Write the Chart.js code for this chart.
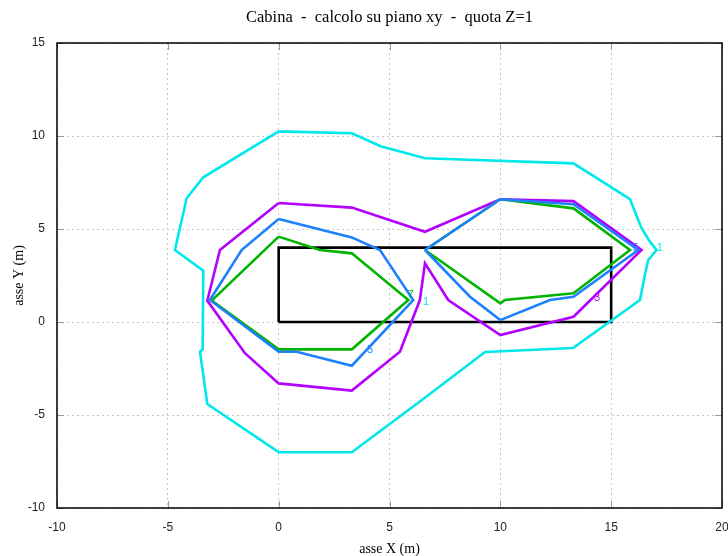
<!DOCTYPE html>
<html>
<head>
<meta charset="utf-8">
<script src="https://cdn.jsdelivr.net/npm/chart.js@4/dist/chart.umd.min.js"></script>
<style>
html,body{margin:0;padding:0;background:#fff;}
#wrap{width:728px;height:556px;position:relative;}
</style>
</head>
<body>
<div id="wrap"><canvas id="c" width="728" height="556"></canvas></div>
<script>
// ---- data ----
const titleText = "Cabina  -  calcolo su piano xy  -  quota Z=1";
const xTitle = "asse X (m)";
const yTitle = "asse Y (m)";
const xTicks = [-10, -5, 0, 5, 10, 15, 20];
const yTicks = [-10, -5, 0, 5, 10, 15];

const rectX = [0, 15, 15, 0, 0];
const rectY = [0, 0, 4, 4, 0];

const cyanX = [0, 3.3, 4.6, 6.6, 13.3, 15.85, 16.37, 16.75, 17.05, 16.67, 16.52, 16.3, 13.28, 9.31, 6.46, 3.3, 0, -3.22, -3.55, -3.43, -3.4, -4.68, -4.15, -3.4, 0];
const cyanY = [10.25, 10.15, 9.45, 8.8, 8.53, 6.6, 5.04, 4.32, 3.87, 3.33, 2.53, 1.18, -1.4, -1.61, -4.19, -7.0, -7.0, -4.41, -1.6, -1.47, 2.76, 3.87, 6.65, 7.78, 10.25];

const purpleX = [0, 3.3, 6.6, 10, 13.3, 16.37, 13.3, 10, 7.65, 6.6, 6.37, 5.47, 3.3, 0, -1.52, -3.22, -2.65, 0];
const purpleY = [6.4, 6.15, 4.85, 6.6, 6.5, 3.87, 0.28, -0.7, 1.18, 3.16, 1.18, -1.6, -3.69, -3.3, -1.68, 1.15, 3.87, 6.4];

const blueLeftX = [0, 3.3, 4.57, 6.07, 3.3, 0.81, 0, -3.1, -1.67, 0];
const blueLeftY = [5.54, 4.55, 3.87, 1.18, -2.35, -1.6, -1.6, 1.18, 3.87, 5.54];
const blueRightX = [6.6, 10, 13.3, 16.22, 13.3, 12.24, 10, 8.63, 6.6];
const blueRightY = [3.87, 6.6, 6.33, 3.87, 1.36, 1.18, 0.1, 1.36, 3.87];

const greenLeftX = [0, 1.86, 3.3, 5.85, 3.3, 0, -3.02, 0];
const greenLeftY = [4.59, 3.87, 3.69, 1.18, -1.47, -1.47, 1.15, 4.59];
const greenRightX = [6.6, 10, 10.2, 13.3, 15.85, 13.3, 10, 6.6];
const greenRightY = [3.87, 1.0, 1.18, 1.54, 3.87, 6.11, 6.6, 3.87];

// contour labels: x, y, text, colour key
const labelX = [6.65, 17.2, 5.95, 16.1, 14.36, 4.12];
const labelY = [1.07, 3.98, 1.45, 4.0, 1.29, -1.5];
const labelText = ["1", "1", "7", "5", "3", "5"];
const labelColor = ["cyan", "cyan", "green", "blue", "purple", "blue"];

const COLORS = {cyan: "#00e8ec", purple: "#b400ff", blue: "#1e80ff", green: "#00b400", black: "#000000"};

function pts(xs, ys){ return xs.map((x,i)=>({x:x, y:ys[i]})); }
function ds(xs, ys, col, order, w){
  return {data: pts(xs, ys), showLine: true, borderColor: COLORS[col], backgroundColor: COLORS[col],
          borderWidth: w || 2.6, pointRadius: 0, pointHoverRadius: 0, fill: false, tension: 0, order: order};
}

const decor = {
  id: 'decor',
  beforeDatasetsDraw(chart){
    const {ctx, chartArea: a, scales: {x, y}} = chart;
    ctx.save();
    ctx.strokeStyle = '#999';
    ctx.lineWidth = 1;
    xTicks.forEach(v=>{
      const px = Math.round(x.getPixelForValue(v)) + 0.5;
      ctx.beginPath(); ctx.moveTo(px, a.top); ctx.lineTo(px, a.top + 7);
      ctx.moveTo(px, a.bottom); ctx.lineTo(px, a.bottom - 7); ctx.stroke();
    });
    yTicks.forEach(v=>{
      const py = Math.round(y.getPixelForValue(v)) + 0.5;
      ctx.beginPath(); ctx.moveTo(a.left, py); ctx.lineTo(a.left + 7, py);
      ctx.moveTo(a.right, py); ctx.lineTo(a.right - 7, py); ctx.stroke();
    });
    ctx.restore();
  },
  afterDraw(chart){
    const {ctx, chartArea: a, scales: {x, y}} = chart;
    ctx.save();
    // frame
    ctx.strokeStyle = '#000';
    ctx.lineWidth = 1.5;
    ctx.strokeRect(a.left, a.top, a.right - a.left, a.bottom - a.top);
    // contour labels
    ctx.font = '11px "Liberation Sans"';
    ctx.textAlign = 'center';
    ctx.textBaseline = 'middle';
    labelText.forEach((t,i)=>{
      ctx.fillStyle = COLORS[labelColor[i]];
      ctx.fillText(t, x.getPixelForValue(labelX[i]), y.getPixelForValue(labelY[i]));
    });
    // titles
    const cx = (a.left + a.right) / 2;
    ctx.fillStyle = '#000';
    ctx.font = '16.5px "Liberation Serif"';
    ctx.textBaseline = 'alphabetic';
    ctx.fillText(titleText, cx, 22);
    ctx.font = '14px "Liberation Serif"';
    ctx.fillText(xTitle, cx, 553);
    ctx.translate(23, (a.top + a.bottom) / 2);
    ctx.rotate(-Math.PI / 2);
    ctx.fillText(yTitle, 0, 0);
    ctx.restore();
  }
};

new Chart(document.getElementById('c'), {
  type: 'scatter',
  data: {
    datasets: [
      ds(rectX, rectY, 'black', 6, 2.6),
      ds(cyanX, cyanY, 'cyan', 5),
      ds(purpleX, purpleY, 'purple', 4),
      ds(greenLeftX, greenLeftY, 'green', 3),
      ds(greenRightX, greenRightY, 'green', 3),
      ds(blueLeftX, blueLeftY, 'blue', 2),
      ds(blueRightX, blueRightY, 'blue', 2)
    ]
  },
  options: {
    responsive: false,
    animation: false,
    devicePixelRatio: 1,
    layout: {padding: {left: 0, right: 6, top: 43, bottom: 0}},
    plugins: {legend: {display: false}, tooltip: {enabled: false}, title: {display: false}},
    scales: {
      x: {
        type: 'linear', min: -10, max: 20,
        afterBuildTicks: s => { s.ticks = xTicks.map(v => ({value: v})); },
        afterFit: s => { s.height = 48; s.paddingRight = 0; s.paddingLeft = 0; },
        ticks: {padding: 12, color: '#222', font: {family: 'Liberation Sans', size: 12}, maxRotation: 0},
        grid: {color: '#c8c8c8', lineWidth: 1, drawTicks: false},
        border: {display: false, dash: [2, 3]}
      },
      y: {
        type: 'linear', min: -10, max: 15,
        afterBuildTicks: s => { s.ticks = yTicks.map(v => ({value: v})); },
        afterFit: s => { s.width = 57; s.paddingTop = 0; s.paddingBottom = 0; },
        ticks: {padding: 12, color: '#222', font: {family: 'Liberation Sans', size: 12}},
        grid: {color: '#c8c8c8', lineWidth: 1, drawTicks: false},
        border: {display: false, dash: [2, 3]}
      }
    }
  },
  plugins: [decor]
});
</script>
</body>
</html>
